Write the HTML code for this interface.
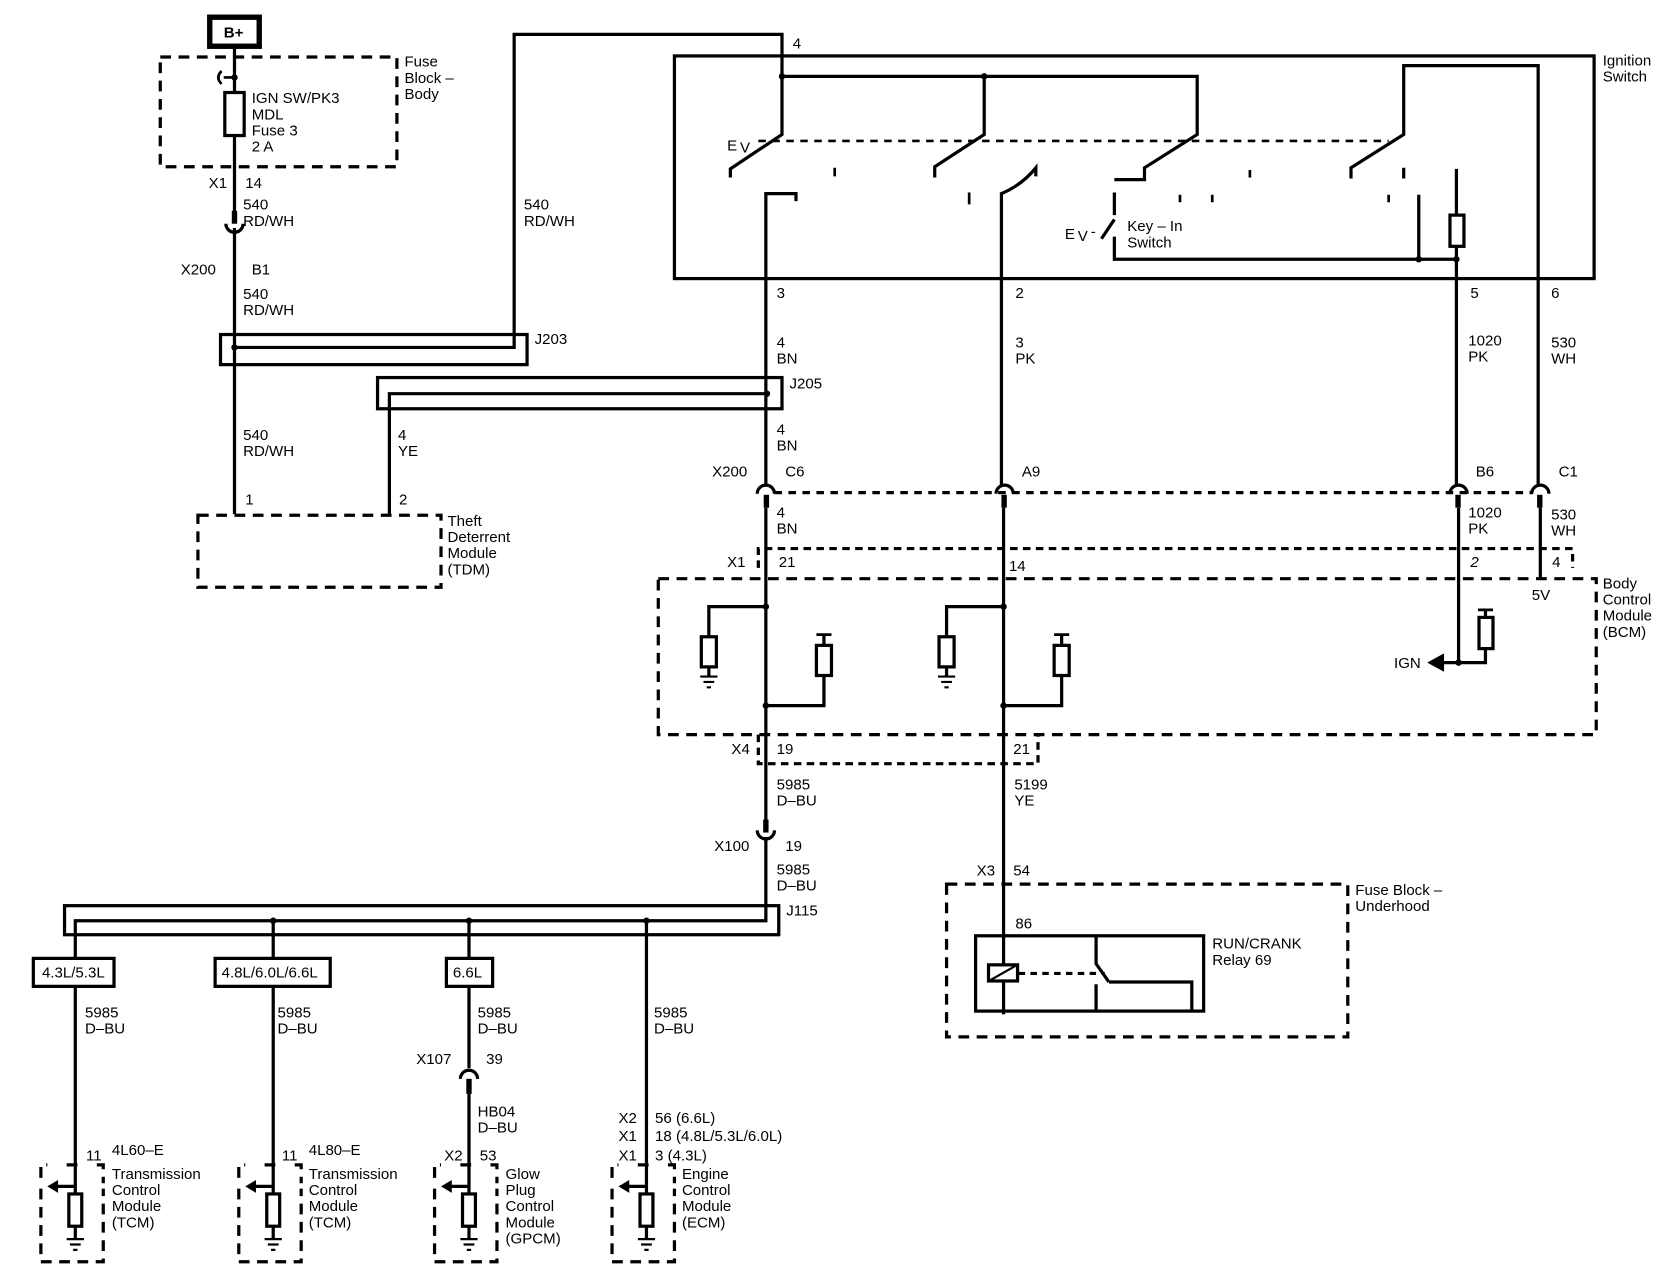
<!DOCTYPE html>
<html><head><meta charset="utf-8"><style>
html,body{margin:0;padding:0;background:#fff}
svg{display:block}
text{font-family:"Liberation Sans",sans-serif;font-size:14px;fill:#000}
</style></head><body>
<svg width="1678" height="1280" viewBox="0 0 1560 1190" preserveAspectRatio="none" xmlns="http://www.w3.org/2000/svg">
<g fill="none" stroke="#000" stroke-width="3">
<!-- B+ -->
<rect x="195" y="16" width="46" height="27" stroke-width="5"/>
<rect x="149" y="53" width="220" height="102" stroke-dasharray="10 7"/>
<line x1="218" y1="44" x2="218" y2="200"/>
<path d="M218,72 H208 M206,66 q-6,6 0,12" stroke-width="2.5"/>
<rect x="209" y="86" width="18" height="40" fill="#fff"/>
<rect x="215.5" y="196" width="5" height="12" fill="#000" stroke="none"/>
<path d="M210,208 A8,8 0 0 0 226,208"/>
<line x1="218" y1="212" x2="218" y2="478"/>
<!-- J203 -->
<rect x="205" y="311" width="285" height="28"/>
<path d="M218,323 H478 V32 H727 V125 L679,157 V165"/>
<!-- J205 -->
<rect x="351" y="351" width="376" height="29"/>
<path d="M713,366 H362 V478"/>
<!-- TDM -->
<rect x="184" y="479" width="226" height="67" stroke-dasharray="10 7"/>
<!-- Ignition switch -->
<rect x="627" y="52" width="855" height="207"/>
<path d="M727,71 H1113 V125 L1064,156 V167 H1036"/>
<path d="M915,71 V125 L869,155 V165"/>
<path d="M1305,166 V156 M1256,166 V156 L1305,125 V61 H1430 V450"/>
<path d="M705,131 H1291" stroke-dasharray="7 6" stroke-width="2.5"/>
<path d="M712,452 V180 H740 V187"/>
<path d="M931,452 V180 Q950,172 963,156 V164"/>
<path d="M1036,179 V200 M1036,220 V241 H1354 M1319,181 V241 M1024,222 L1036,204"/>
<path d="M1354,157 V450"/>
<rect x="1348" y="200" width="13" height="29" fill="#fff"/>
<path d="M776,156 V164 M901,179 V190 M1097,181 V188 M1127,181 V188 M1162,158 V165 M1291,181 V188" stroke-width="2.5"/>
<!-- X200 row -->
<path d="M720,458 H1425" stroke-dasharray="7 6"/>
<path d="M704,459 A8,8 0 0 1 720,459 M926,459 A8,8 0 0 1 942,459 M1348,459 A8,8 0 0 1 1364,459 M1424,459 A8,8 0 0 1 1440,459"/>
<g fill="#000" stroke="none">
<rect x="710" y="460" width="5" height="12"/><rect x="931" y="460" width="5" height="12"/>
<rect x="1353" y="460" width="5" height="12"/><rect x="1429" y="460" width="5" height="12"/>
</g>
<path d="M712,472 V770 M933,472 V943 M1356,472 V616 M1432,472 V538"/>
<!-- BCM -->
<path d="M705,528 V510 H1462 V528" stroke-dasharray="7 5"/>
<rect x="612" y="538" width="872" height="145" stroke-dasharray="10 7"/>
<path d="M705,683 V710 H965 V683" stroke-dasharray="7 5"/>
<path d="M712,564 H659 V592 M659,620 V628 M766,590 V600 M766,628 V656 H712"/>
<path d="M933,564 H880 V592 M880,620 V628 M987,590 V600 M987,628 V656 H933"/>
<path d="M759,590 H773 M980,590 H994 M1374,567 H1388" stroke-width="2.5"/>
<rect x="652" y="592" width="14" height="28" fill="#fff"/>
<rect x="759" y="600" width="14" height="28" fill="#fff"/>
<rect x="873" y="592" width="14" height="28" fill="#fff"/>
<rect x="980" y="600" width="14" height="28" fill="#fff"/>
<path d="M651,629 H667 M654,634 H664 M657,639 H661 M872,629 H888 M875,634 H885 M878,639 H882" stroke-width="2"/>
<path d="M1356,616 H1338 M1381,567 V574 M1381,603 V616 H1356"/>
<rect x="1375" y="574" width="13" height="29" fill="#fff"/>
<path d="M1330,616 L1341,610 V622 Z" fill="#000"/>
<!-- X100 -->
<rect x="709.5" y="762" width="5" height="12" fill="#000" stroke="none"/>
<path d="M704,772 A8,8 0 0 0 720,772"/>
<path d="M712,778 V856 H70 V891"/>
<rect x="60" y="842" width="664" height="27"/>
<path d="M254,856 V891 M436,856 V891 M601,856 V1083"/>
<rect x="31" y="891" width="75" height="26"/>
<rect x="200" y="891" width="107" height="26"/>
<rect x="415" y="891" width="43" height="26"/>
<path d="M70,917 V1110 M254,917 V1110 M436,917 V993"/>
<path d="M428,1003 A8,8 0 0 1 444,1003"/>
<rect x="433.5" y="1003" width="5" height="14" fill="#000" stroke="none"/>
<path d="M436,1017 V1110 M601,1083 V1110"/>
<!-- module bottoms -->
<g id="m">
<path d="M38,1095 V1083 H44 M62,1083 H78 M90,1083 H96 V1095 M38,1105 V1173 H96 V1105 M96,1095 V1100" stroke-dasharray="10 7"/>
<path d="M70,1103 H52"/>
<path d="M44,1103 L54,1097 V1109 Z" fill="#000" stroke="none"/>
<rect x="64" y="1110" width="12" height="30" fill="#fff"/>
<path d="M70,1140 V1152"/>
<path d="M62,1152 H78 M65,1157 H75 M68,1162 H72" stroke-width="2"/>
</g>
<use href="#m" x="184"/>
<use href="#m" x="366"/>
<use href="#m" x="531"/>
<!-- Fuse block underhood -->
<rect x="880" y="822" width="373" height="142" stroke-dasharray="10 7"/>
<rect x="907" y="870" width="212" height="70"/>
<rect x="919" y="897" width="27" height="15" fill="#fff"/>
<path d="M921,911 L944,898" stroke-width="2"/>
<path d="M947,905 H1027" stroke-dasharray="6 5"/>
<path d="M1019,870 V896 L1031,913 M1019,915 V940 M1031,913 H1108 V940"/>
</g>
<g fill="#000">
<circle cx="218" cy="72" r="3"/><circle cx="218" cy="323" r="3"/><circle cx="713" cy="366" r="3"/>
<circle cx="727" cy="71" r="3"/><circle cx="915" cy="71" r="3"/><circle cx="1319" cy="241" r="3"/><circle cx="1354" cy="241" r="3"/>
<circle cx="712" cy="564" r="3"/><circle cx="712" cy="656" r="3"/><circle cx="933" cy="564" r="3"/><circle cx="933" cy="656" r="3"/><circle cx="1356" cy="616" r="3"/>
<circle cx="254" cy="856" r="3"/><circle cx="436" cy="856" r="3"/><circle cx="601" cy="856" r="3"/>
</g>
<g>
<text x="208" y="35" font-weight="bold" font-size="13">B+</text>
<text x="376" y="62">Fuse</text><text x="376" y="77">Block –</text><text x="376" y="92">Body</text>
<text x="234" y="96">IGN SW/PK3</text><text x="234" y="111">MDL</text><text x="234" y="126">Fuse 3</text><text x="234" y="141">2 A</text>
<text x="194" y="175">X1</text><text x="228" y="175">14</text>
<text x="226" y="195">540</text><text x="226" y="210">RD/WH</text>
<text x="168" y="255">X200</text><text x="234" y="255">B1</text>
<text x="226" y="278">540</text><text x="226" y="293">RD/WH</text>
<text x="487" y="195">540</text><text x="487" y="210">RD/WH</text>
<text x="497" y="320">J203</text><text x="734" y="361">J205</text>
<text x="226" y="409">540</text><text x="226" y="424">RD/WH</text>
<text x="370" y="409">4</text><text x="370" y="424">YE</text>
<text x="228" y="469">1</text><text x="371" y="469">2</text>
<text x="416" y="489">Theft</text><text x="416" y="504">Deterrent</text><text x="416" y="519">Module</text><text x="416" y="534">(TDM)</text>
<text x="737" y="45">4</text>
<text x="1490" y="61">Ignition</text><text x="1490" y="76">Switch</text>
<text x="676" y="140" font-size="20">E</text><text x="688" y="142" font-size="12">V</text>
<text x="990" y="222" font-size="20">E</text><text x="1002" y="224" font-size="12">V</text>
<text x="1014" y="220">-</text>
<text x="1048" y="215">Key – In</text><text x="1048" y="230">Switch</text>
<text x="722" y="277">3</text><text x="944" y="277">2</text><text x="1367" y="277">5</text><text x="1442" y="277">6</text>
<text x="722" y="323">4</text><text x="722" y="338">BN</text>
<text x="944" y="323">3</text><text x="944" y="338">PK</text>
<text x="1365" y="321">1020</text><text x="1365" y="336">PK</text>
<text x="1442" y="323">530</text><text x="1442" y="338">WH</text>
<text x="722" y="404">4</text><text x="722" y="419">BN</text>
<text x="662" y="443">X200</text><text x="730" y="443">C6</text><text x="950" y="443">A9</text><text x="1372" y="443">B6</text><text x="1449" y="443">C1</text>
<text x="722" y="481">4</text><text x="722" y="496">BN</text>
<text x="1365" y="481">1020</text><text x="1365" y="496">PK</text>
<text x="1442" y="483">530</text><text x="1442" y="498">WH</text>
<text x="676" y="527">X1</text><text x="724" y="527">21</text><text x="938" y="531">14</text><text x="1367" y="527" font-style="italic">2</text><text x="1443" y="527">4</text>
<text x="1424" y="558">5V</text>
<text x="1490" y="547">Body</text><text x="1490" y="562">Control</text><text x="1490" y="577">Module</text><text x="1490" y="592">(BCM)</text>
<text x="1296" y="621">IGN</text>
<text x="680" y="701">X4</text><text x="722" y="701">19</text><text x="942" y="701">21</text>
<text x="722" y="734">5985</text><text x="722" y="749">D–BU</text>
<text x="943" y="734">5199</text><text x="943" y="749">YE</text>
<text x="664" y="791">X100</text><text x="730" y="791">19</text>
<text x="722" y="813">5985</text><text x="722" y="828">D–BU</text>
<text x="731" y="851">J115</text>
<text x="908" y="814">X3</text><text x="942" y="814">54</text>
<text x="1260" y="832">Fuse Block –</text><text x="1260" y="847">Underhood</text>
<text x="944" y="863">86</text>
<text x="1127" y="882">RUN/CRANK</text><text x="1127" y="897">Relay 69</text>
<text x="39" y="909" font-size="13">4.3L/5.3L</text>
<text x="206" y="909" font-size="13">4.8L/6.0L/6.6L</text>
<text x="421" y="909" font-size="13">6.6L</text>
<text x="79" y="946">5985</text><text x="79" y="961">D–BU</text>
<text x="258" y="946">5985</text><text x="258" y="961">D–BU</text>
<text x="444" y="946">5985</text><text x="444" y="961">D–BU</text>
<text x="608" y="946">5985</text><text x="608" y="961">D–BU</text>
<text x="387" y="989">X107</text><text x="452" y="989">39</text>
<text x="444" y="1038">HB04</text><text x="444" y="1053">D–BU</text>
<text x="575" y="1044">X2</text><text x="609" y="1044">56 (6.6L)</text>
<text x="575" y="1061">X1</text><text x="609" y="1061">18 (4.8L/5.3L/6.0L)</text>
<text x="575" y="1079">X1</text><text x="609" y="1079">3 (4.3L)</text>
<text x="80" y="1079">11</text><text x="104" y="1074">4L60–E</text>
<text x="104" y="1096">Transmission</text><text x="104" y="1111">Control</text><text x="104" y="1126">Module</text><text x="104" y="1141">(TCM)</text>
<text x="262" y="1079">11</text><text x="287" y="1074">4L80–E</text>
<text x="287" y="1096">Transmission</text><text x="287" y="1111">Control</text><text x="287" y="1126">Module</text><text x="287" y="1141">(TCM)</text>
<text x="413" y="1079">X2</text><text x="446" y="1079">53</text>
<text x="470" y="1096">Glow</text><text x="470" y="1111">Plug</text><text x="470" y="1126">Control</text><text x="470" y="1141">Module</text><text x="470" y="1156">(GPCM)</text>
<text x="634" y="1096">Engine</text><text x="634" y="1111">Control</text><text x="634" y="1126">Module</text><text x="634" y="1141">(ECM)</text>
</g>
</svg>
</body></html>
